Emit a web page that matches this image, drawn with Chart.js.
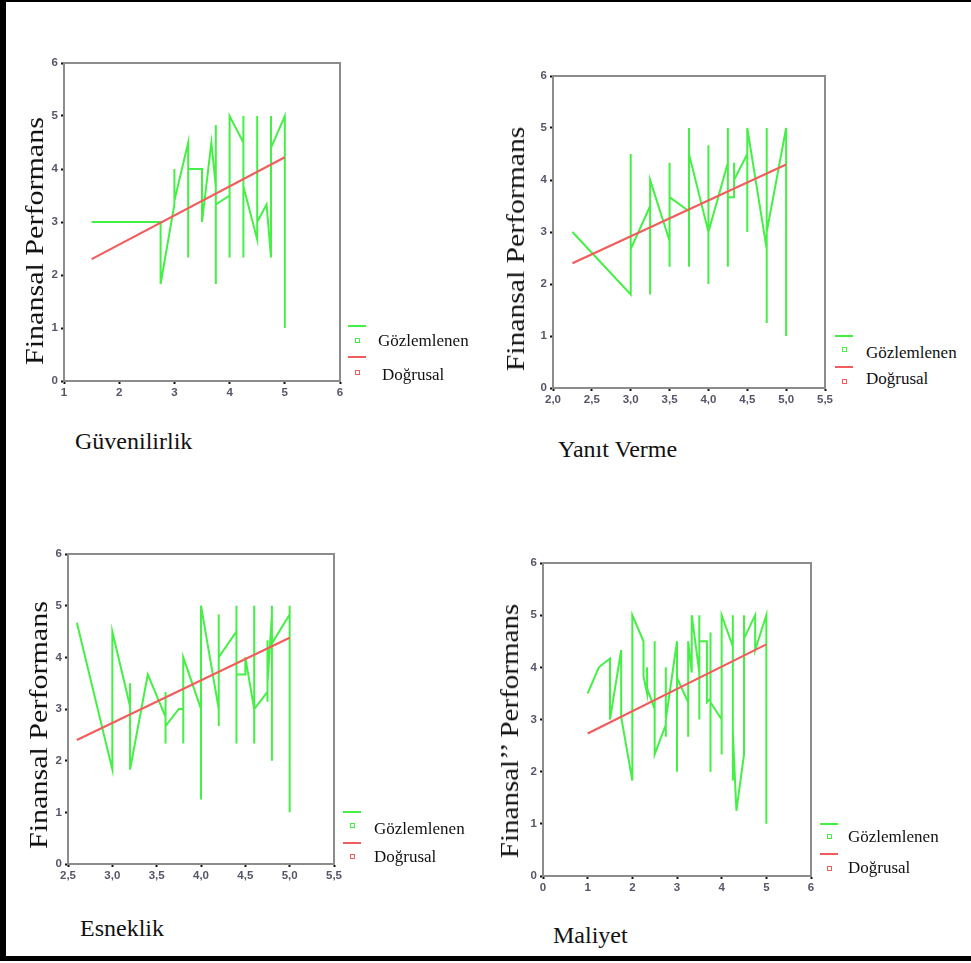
<!DOCTYPE html>
<html lang="tr">
<head>
<meta charset="utf-8">
<title>Finansal Performans</title>
<script src="https://cdn.jsdelivr.net/npm/chart.js@4.4.0/dist/chart.umd.min.js"></script>
<style>
  body { margin: 0; background: #fff; }
  #page { position: relative; width: 971px; height: 963px; overflow: hidden; background: #fff; }
  .frame { position: absolute; background: #000; }
  canvas { position: absolute; }
  .ytitle { position: absolute; font: 26px "Liberation Serif", serif; line-height: 1; white-space: nowrap; color: #111; }
  .xtitle { position: absolute; font: 24px "Liberation Serif", serif; line-height: 1; white-space: nowrap; color: #111; }
  .legtext { position: absolute; font: 17px "Liberation Serif", serif; line-height: 1; white-space: nowrap; color: #111; }
  .legline { position: absolute; width: 18px; height: 2px; }
  .legmark { position: absolute; width: 3px; height: 3px; border: 1.5px solid; }
</style>
</head>
<body>
<div id="page">
  <div class="frame" style="left:0;top:0;width:971px;height:2px"></div>
  <div class="frame" style="left:0;top:0;width:6px;height:961px"></div>
  <div class="frame" style="left:0;top:956px;width:971px;height:5px"></div>
</div>
<script>
// metinler
const yTitle = 'Finansal Performans';
const yTitleMaliyet = 'Finansal’’ Performans';
const legendLabels = ['Gözlemlenen', 'Doğrusal'];
const yTicks = [0, 1, 2, 3, 4, 5, 6];

// Güvenilirlik
const guvenilirlikTicks = [1, 2, 3, 4, 5, 6];
const guvenilirlikX = [1.5, 2.75, 2.75, 3.0, 3.0, 3.0, 3.25, 3.25, 3.25, 3.5, 3.5, 3.67, 3.75, 3.75, 3.75, 3.75,
  4.0, 4.0, 4.0, 4.25, 4.25, 4.25, 4.25, 4.5, 4.5, 4.5, 4.67, 4.75, 4.75, 4.75, 5.0, 5.0];
const guvenilirlikY = [3.0, 3.0, 1.83, 3.33, 4.0, 3.4, 4.5, 2.33, 4.0, 4.0, 3.0, 4.5, 3.67, 4.83, 1.83, 3.33,
  3.5, 2.33, 5.0, 4.5, 5.0, 2.33, 3.67, 2.67, 5.0, 3.0, 3.33, 2.33, 5.0, 4.4, 5.0, 1.0];
const guvenilirlikFitX = [1.5, 5.0];
const guvenilirlikFitY = [2.3, 4.22];

// Yanıt Verme
const yanitTicks = [2.0, 2.5, 3.0, 3.5, 4.0, 4.5, 5.0, 5.5];
const yanitX = [2.25, 3.0, 3.0, 3.0, 3.25, 3.25, 3.25, 3.5, 3.5, 3.5, 3.5, 3.75, 3.75, 3.75, 3.75,
  4.0, 4.0, 4.0, 4.0, 4.25, 4.25, 4.25, 4.25, 4.33, 4.33, 4.33, 4.5, 4.5, 4.5, 4.75, 4.75, 4.75, 4.75, 5.0, 5.0];
const yanitY = [3.0, 1.8, 4.5, 2.67, 3.5, 1.8, 4.0, 2.83, 4.33, 2.33, 3.67, 3.4, 2.33, 5.0, 4.5,
  3.0, 2.0, 4.67, 3.0, 4.33, 2.33, 5.0, 3.67, 3.67, 4.33, 4.0, 4.5, 3.0, 5.0, 2.67, 1.25, 5.0, 3.0, 5.0, 1.0];
const yanitFitX = [2.25, 5.0];
const yanitFitY = [2.4, 4.3];

// Esneklik
const esneklikTicks = [2.5, 3.0, 3.5, 4.0, 4.5, 5.0, 5.5];
const esneklikX = [2.6, 3.0, 3.0, 3.2, 3.2, 3.2, 3.4, 3.6, 3.6, 3.6, 3.6, 3.75, 3.8, 3.8, 3.8,
  4.0, 4.0, 4.0, 4.2, 4.2, 4.2, 4.2, 4.4, 4.4, 4.4, 4.4, 4.5, 4.5, 4.6, 4.6, 4.6, 4.6,
  4.75, 4.75, 4.75, 4.75, 4.8, 4.8, 4.8, 4.8, 5.0, 5.0, 5.0];
const esneklikY = [4.67, 1.83, 4.5, 3.05, 3.5, 1.83, 3.67, 2.85, 3.33, 2.33, 2.67, 3.0, 3.0, 2.33, 4.0,
  3.0, 1.25, 5.0, 3.0, 2.67, 4.83, 4.0, 4.5, 2.33, 5.0, 3.67, 3.67, 4.0, 3.0, 2.33, 5.0, 3.0,
  3.33, 3.14, 4.33, 3.5, 4.83, 2.0, 5.0, 4.27, 4.83, 5.0, 1.0];
const esneklikFitX = [2.6, 5.0];
const esneklikFitY = [2.4, 4.38];

// Maliyet
const maliyetTicks = [0, 1, 2, 3, 4, 5, 6];
const maliyetX = [1.0, 1.25, 1.5, 1.5, 1.75, 1.75, 2.0, 2.0, 2.25, 2.25, 2.33, 2.33, 2.33, 2.5, 2.5, 2.5,
  2.75, 2.75, 2.75, 2.75, 3.0, 3.0, 3.0, 3.25, 3.25, 3.25, 3.33, 3.33, 3.5, 3.5, 3.5, 3.5, 3.67, 3.67,
  3.75, 3.75, 3.75, 3.75, 4.0, 4.0, 4.0, 4.25, 4.25, 4.25, 4.25, 4.33, 4.5, 4.5, 4.5, 4.5, 4.75, 4.75, 5.0, 5.0];
const maliyetY = [3.5, 4.0, 4.17, 3.0, 4.33, 3.05, 1.83, 5.0, 4.5, 3.83, 3.5, 4.0, 3.6, 3.2, 4.5, 2.33,
  2.9, 4.0, 2.67, 3.0, 4.5, 2.0, 3.8, 3.33, 2.67, 4.5, 3.9, 5.0, 3.9, 5.0, 3.0, 4.5, 4.5, 3.33,
  3.4, 4.67, 2.0, 3.33, 3.0, 2.33, 5.0, 4.4, 5.0, 1.83, 2.75, 1.25, 2.33, 2.55, 5.0, 4.55, 5.0, 4.33, 5.0, 1.0];
const maliyetFitX = [1.0, 5.0];
const maliyetFitY = [2.73, 4.44];

const GREEN = '#44f044';
const RED = '#f25c5c';

// çizim alanlarının sayfadaki yerleri: [sol, üst, sağ, alt]
const panels = [
  { name: 'Güvenilirlik', ticks: guvenilirlikTicks, xs: guvenilirlikX, ys: guvenilirlikY, fx: guvenilirlikFitX, fy: guvenilirlikFitY,
    decimals: 0, ytext: yTitle, area: [64, 63, 340, 381], yt: [35, 241, 1.156], xt: [75, 429],
    leg: { x: 348, g: 326, gm: 340, gt: [378, 332], r: 357, rm: 372, rt: [382, 366] } },
  { name: 'Yanıt Verme', ticks: yanitTicks, xs: yanitX, ys: yanitY, fx: yanitFitX, fy: yanitFitY,
    decimals: 1, ytext: yTitle, area: [553, 76, 825, 388], yt: [516, 249, 1.14], xt: [558, 437],
    leg: { x: 835, g: 336, gm: 349, gt: [866, 344], r: 367, rm: 381, rt: [866, 370] } },
  { name: 'Esneklik', ticks: esneklikTicks, xs: esneklikX, ys: esneklikY, fx: esneklikFitX, fy: esneklikFitY,
    decimals: 1, ytext: yTitle, area: [68, 554, 334, 864], yt: [39, 725, 1.156], xt: [80, 916],
    leg: { x: 343, g: 812, gm: 825, gt: [374, 820], r: 843, rm: 856, rt: [374, 848] } },
  { name: 'Maliyet', ticks: maliyetTicks, xs: maliyetX, ys: maliyetY, fx: maliyetFitX, fy: maliyetFitY,
    decimals: 0, ytext: yTitleMaliyet, area: [543, 563, 811, 876], yt: [510, 731, 1.117], xt: [553, 923],
    leg: { x: 820, g: 824, gm: 836, gt: [848, 828], r: 854, rm: 868, rt: [848, 859] } }
];

const PAD_L = 30, PAD_T = 10, PAD_R = 10, PAD_B = 24;
const page = document.getElementById('page');

// çizim alanının üst ve sağ kenarı
const framePlugin = {
  id: 'frame',
  beforeDatasetsDraw(chart) {
    const { ctx, chartArea: a } = chart;
    ctx.save();
    ctx.strokeStyle = '#8c8c8c';
    ctx.lineWidth = 2;
    ctx.strokeRect(a.left, a.top, a.right - a.left, a.bottom - a.top);
    ctx.restore();
  }
};

function addDiv(cls, text, style) {
  const d = document.createElement('div');
  d.className = cls;
  if (text) d.textContent = text;
  Object.assign(d.style, style);
  page.appendChild(d);
  return d;
}

function tickFont() {
  return { family: '"Liberation Sans", Arial, sans-serif', size: 11.5, weight: 'bold' };
}

panels.forEach(function(p) {
  const [l, t, r, b] = p.area;
  const w = r - l + PAD_L + PAD_R;
  const h = b - t + PAD_T + PAD_B;
  const canvas = document.createElement('canvas');
  canvas.width = w;
  canvas.height = h;
  canvas.style.left = (l - PAD_L) + 'px';
  canvas.style.top = (t - PAD_T) + 'px';
  canvas.style.width = w + 'px';
  canvas.style.height = h + 'px';
  page.appendChild(canvas);

  const fmt = v => p.decimals ? v.toFixed(1).replace('.', ',') : String(v);

  new Chart(canvas, {
    type: 'line',
    data: {
      datasets: [
        {
          label: legendLabels[1],
          data: p.fx.map((x, i) => ({ x: x, y: p.fy[i] })),
          borderColor: RED,
          borderWidth: 2.2,
          pointRadius: 0,
          tension: 0
        },
        {
          label: legendLabels[0],
          data: p.xs.map((x, i) => ({ x: x, y: p.ys[i] })),
          borderColor: GREEN,
          borderWidth: 2,
          pointRadius: 0,
          tension: 0
        }
      ]
    },
    options: {
      responsive: false,
      animation: false,
      layout: { padding: { left: 0, top: PAD_T, right: PAD_R, bottom: 0 } },
      plugins: { legend: { display: false }, tooltip: { enabled: false } },
      scales: {
        x: {
          type: 'linear',
          min: p.ticks[0],
          max: p.ticks[p.ticks.length - 1],
          afterBuildTicks: s => { s.ticks = p.ticks.map(v => ({ value: v })); },
          afterFit: s => { s.height = PAD_B; },
          ticks: { callback: fmt, color: '#55556a', font: tickFont(), padding: 2, maxRotation: 0, autoSkip: false },
          grid: { drawOnChartArea: false, tickLength: 3, tickWidth: 2, color: '#111' },
          border: { color: '#8c8c8c', width: 2 }
        },
        y: {
          type: 'linear',
          min: yTicks[0],
          max: yTicks[yTicks.length - 1],
          afterBuildTicks: s => { s.ticks = yTicks.map(v => ({ value: v })); },
          afterFit: s => { s.width = PAD_L; },
          ticks: { color: '#55556a', font: tickFont(), padding: 3 },
          grid: { drawOnChartArea: false, tickLength: 3, tickWidth: 2, color: '#111' },
          border: { color: '#8c8c8c', width: 2 }
        }
      }
    },
    plugins: [framePlugin]
  });

  // eksen başlıkları
  addDiv('ytitle', p.ytext, {
    left: p.yt[0] + 'px', top: p.yt[1] + 'px',
    transform: 'translate(-50%, -50%) rotate(-90deg) scaleX(' + p.yt[2] + ')'
  });
  addDiv('xtitle', p.name, { left: p.xt[0] + 'px', top: p.xt[1] + 'px' });

  // açıklama (legend)
  const g = p.leg;
  addDiv('legline', '', { left: g.x + 'px', top: (g.g - 1) + 'px', background: GREEN });
  addDiv('legmark', '', { left: (g.x + 7) + 'px', top: (g.gm - 2) + 'px', borderColor: GREEN });
  addDiv('legtext', legendLabels[0], { left: g.gt[0] + 'px', top: g.gt[1] + 'px' });
  addDiv('legline', '', { left: g.x + 'px', top: (g.r - 1) + 'px', background: RED });
  addDiv('legmark', '', { left: (g.x + 7) + 'px', top: (g.rm - 2) + 'px', borderColor: RED });
  addDiv('legtext', legendLabels[1], { left: g.rt[0] + 'px', top: g.rt[1] + 'px' });
});
</script>
</body>
</html>
